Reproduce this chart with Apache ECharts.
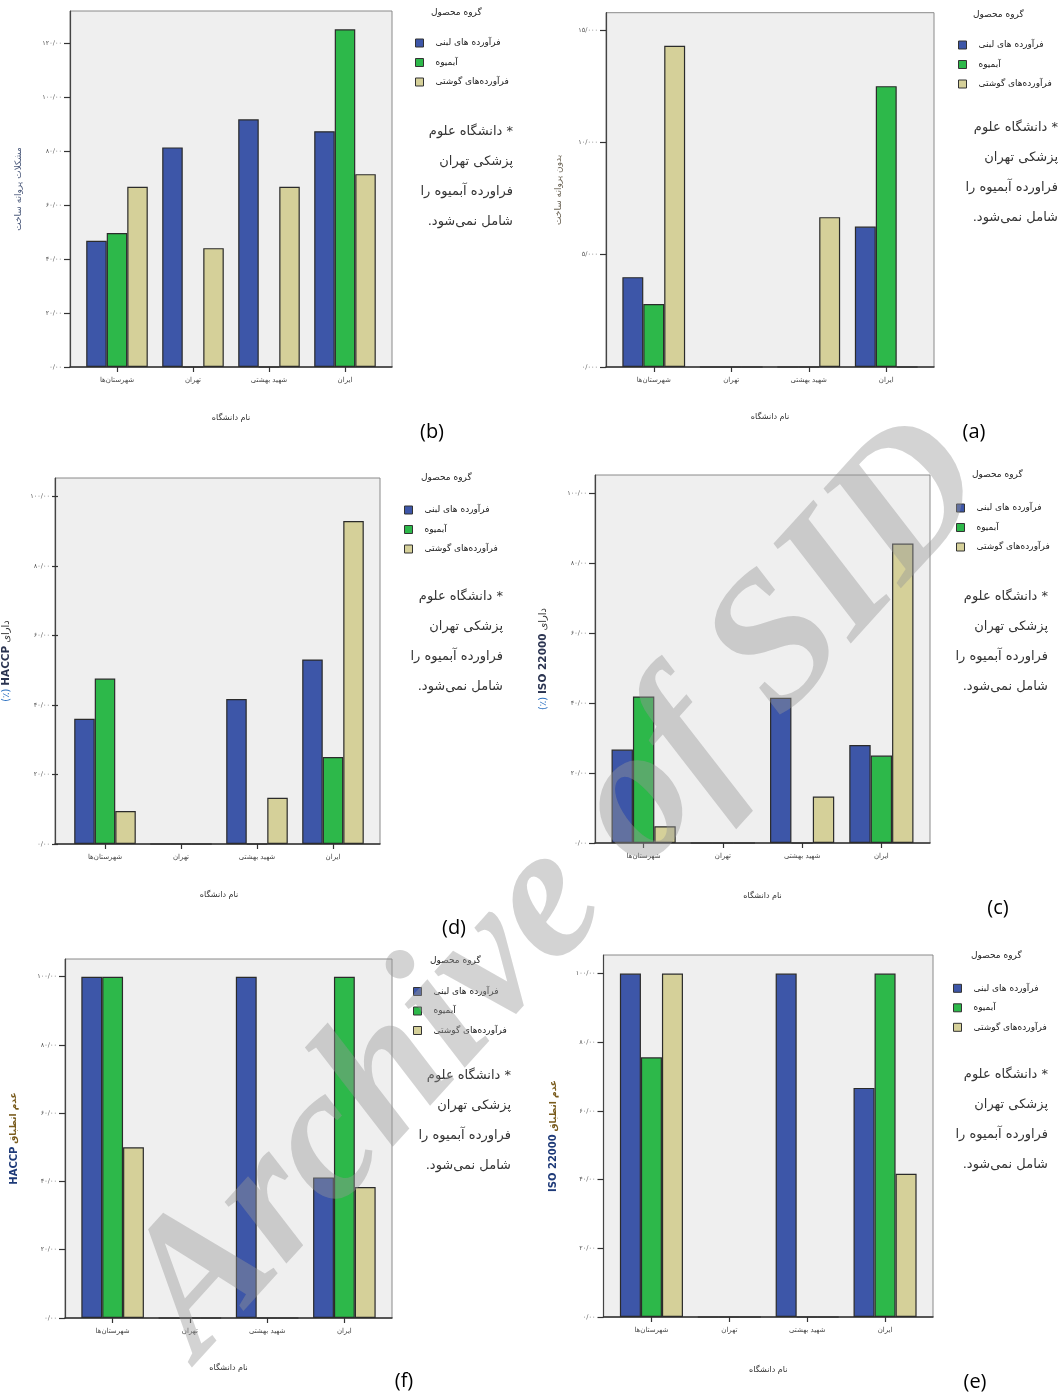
<!DOCTYPE html>
<html lang="fa">
<head>
<meta charset="utf-8" />
<title>نام دانشگاه - گروه محصول</title>
<style>
  html, body { margin: 0; padding: 0; background: #fff; }
  #chart { width: 1059px; height: 1392px; }
</style>
</head>
<body>
<div id="chart"></div>
<script src="https://cdn.jsdelivr.net/npm/echarts@6/dist/echarts.min.js"></script>
<script>
const categories = ['شهرستان‌ها', 'تهران', 'شهید بهشتی', 'ایران'];
const groupNames = ['فرآورده های لبنی', 'آبمیوه', 'فرآورده‌های گوشتی'];
const groupColors = ['#3d56a8', '#2db84a', '#d5d099'];

// (a) بدون پروانه ساخت
const dairyA = [4.0, 0, 0, 6.25];
const juiceA = [2.8, 0, 0, 12.5];
const meatA = [14.3, 0, 6.67, 0];
// (b) مشکلات پروانه ساخت
const dairyB = [46.7, 81.3, 91.7, 87.3];
const juiceB = [49.6, 0, 0, 125];
const meatB = [66.7, 44, 66.7, 71.4];
// (c) دارای ISO 22000
const dairyC = [26.7, 0, 41.5, 28];
const juiceC = [41.9, 0, 0, 25];
const meatC = [4.8, 0, 13.3, 85.6];
// (d) دارای HACCP
const dairyD = [36, 0, 41.7, 53.1];
const juiceD = [47.6, 0, 0, 25];
const meatD = [9.5, 0, 13.3, 92.9];
// (e) عدم انطباق ISO 22000
const dairyE = [100, 0, 100, 66.7];
const juiceE = [75.6, 0, 0, 100];
const meatE = [100, 0, 0, 41.7];
// (f) عدم انطباق HACCP
const dairyF = [100, 0, 100, 41.2];
const juiceF = [100, 0, 0, 100];
const meatF = [50, 0, 0, 38.4];

const yTicksA = [0, 5, 10, 15];
const yTicksB = [0, 20, 40, 60, 80, 100, 120];
const yTicksPct = [0, 20, 40, 60, 80, 100];

const noteLines = ['* دانشگاه علوم', 'پزشکی تهران', 'فراورده آبمیوه را', 'شامل نمی‌شود.'];
const legendTitle = 'گروه محصول';
const xName = 'نام دانشگاه';

const RLE = '\u202B', PDF = '\u202C';
const faDigits = '۰۱۲۳۴۵۶۷۸۹';
const toFa = (v, dec) => v.toFixed(dec).replace('.', '/').replace(/\d/g, d => faDigits[d]);
const FONT = '"DejaVu Sans", sans-serif';

const richY = {
  p: { color: '#2a6fc0', fontSize: 10, fontFamily: FONT },
  l: { color: '#2a3350', fontSize: 10.5, fontWeight: 'bold', fontFamily: FONT },
  f: { color: '#333', fontSize: 10, fontFamily: FONT },
  lb: { color: '#1e3a78', fontSize: 10, fontWeight: 'bold', fontFamily: FONT },
  fb: { color: '#7a5c1e', fontSize: 9, fontWeight: 'bold', fontFamily: FONT }
};

const panels = [
  { label: '(b)', box: [70, 11, 392, 367], max: 131.8, step: 20, ticks: yTicksB, dec: 2,
    data: [dairyB, juiceB, meatB], yName: 'مشکلات پروانه ساخت', yColor: '#4d5b7c', yGap: 47, xGap: 47,
    leg: [415, 43], title: [431, 13], note: [513, 116.7], lab: [432, 432] },
  { label: '(a)', box: [606, 12.7, 934, 367], max: 15.77, step: 5, ticks: yTicksA, dec: 3,
    data: [dairyA, juiceA, meatA], yName: 'بدون پروانه ساخت', yColor: '#6d6658', yGap: 43, xGap: 46,
    leg: [958, 45], title: [973, 15], note: [1058, 113], lab: [974, 432] },
  { label: '(d)', box: [55, 478, 380, 844], max: 105.3, step: 20, ticks: yTicksPct, dec: 2,
    data: [dairyD, juiceD, meatD], yName: '{p|(٪)} {l|HACCP} {f|دارای}', yGap: 46, xGap: 47,
    leg: [404, 510], title: [421, 478], note: [503, 581.7], lab: [454, 928] },
  { label: '(c)', box: [595, 475, 930, 843], max: 105.2, step: 20, ticks: yTicksPct, dec: 2,
    data: [dairyC, juiceC, meatC], yName: '{p|(٪)} {l|ISO 22000} {f|دارای}', yGap: 46, xGap: 49,
    leg: [956, 508], title: [972, 475], note: [1048, 582], lab: [998, 908] },
  { label: '(f)', box: [65, 959, 392, 1318], max: 105.2, step: 20, ticks: yTicksPct, dec: 2,
    data: [dairyF, juiceF, meatF], yName: '{lb|HACCP} {fb|عدم انطباق}', yGap: 46, xGap: 46,
    leg: [413, 991.5], title: [430, 960.7], note: [511, 1061], lab: [404, 1381] },
  { label: '(e)', box: [603.5, 955, 933, 1317], max: 105.4, step: 20, ticks: yTicksPct, dec: 2,
    data: [dairyE, juiceE, meatE], yName: '{lb|ISO 22000} {fb|عدم انطباق}', yGap: 45, xGap: 49,
    leg: [953, 988.3], title: [971, 956], note: [1048, 1060], lab: [975, 1382] }
];

const option = {
  animation: false,
  grid: [], xAxis: [], yAxis: [], series: [], legend: [], graphic: []
};

panels.forEach((p, i) => {
  const [l, t, r, b] = p.box;
  const inset = 9;
  option.grid.push({ left: l, top: t, width: r - l, height: b - t, show: true,
    backgroundColor: '#efefef', borderColor: '#8a8a8a', borderWidth: 1 });
  option.grid.push({ left: l + inset, top: t, width: r - l - 2 * inset, height: b - t });

  // frame axes (box grid)
  option.xAxis.push({ gridIndex: 2 * i, type: 'value', min: 0, max: 1,
    axisLine: { show: true, lineStyle: { color: '#333', width: 1.5 } },
    axisTick: { show: false }, axisLabel: { show: false }, splitLine: { show: false } });
  option.yAxis.push({ gridIndex: 2 * i, type: 'value', min: 0, max: 1,
    axisLine: { show: true, lineStyle: { color: '#444', width: 1.2 } },
    axisTick: { show: false }, axisLabel: { show: false }, splitLine: { show: false } });

  // data axes
  option.xAxis.push({ gridIndex: 2 * i + 1, type: 'category', data: categories,
    axisLine: { show: false },
    axisTick: { show: true, alignWithLabel: true, length: 5, lineStyle: { color: '#333', width: 1.2 } },
    axisLabel: { fontSize: 7, color: '#444', margin: 10, fontFamily: FONT },
    name: xName, nameLocation: 'middle', nameGap: p.xGap,
    nameTextStyle: { fontSize: 8, color: '#333', fontFamily: FONT } });
  option.yAxis.push({ gridIndex: 2 * i + 1, type: 'value', min: 0, max: p.max, interval: p.step,
    offset: inset,
    axisLine: { show: false },
    axisTick: { show: true, length: 6, customValues: p.ticks, lineStyle: { color: '#333', width: 1.2 } },
    axisLabel: { customValues: p.ticks, formatter: v => toFa(v, p.dec),
      fontSize: 6.5, color: '#555', margin: 8, fontFamily: FONT },
    splitLine: { show: false },
    name: p.yName, nameLocation: 'middle', nameGap: p.yGap,
    nameTextStyle: { fontSize: 9, color: p.yColor || '#333', fontFamily: FONT, rich: richY } });

  groupNames.forEach((name, k) => {
    option.series.push({
      type: 'bar', name, xAxisIndex: 2 * i + 1, yAxisIndex: 2 * i + 1,
      data: p.data[k], barGap: '0%', barCategoryGap: '19%',
      itemStyle: { color: groupColors[k], borderColor: '#2b2b2b', borderWidth: 1.2 }
    });
  });

  option.legend.push({
    orient: 'vertical', left: p.leg[0], top: p.leg[1] - 6, padding: 0,
    itemWidth: 8, itemHeight: 8, itemGap: 7.5, icon: 'rect', selectedMode: false,
    data: groupNames,
    itemStyle: { borderColor: '#333', borderWidth: 1 },
    textStyle: { fontSize: 9, color: '#222', lineHeight: 12, padding: [0, 0, 0, 7], fontFamily: FONT }
  });

  option.graphic.push({
    type: 'text', x: p.title[0], y: p.title[1], silent: true,
    style: { text: legendTitle, fill: '#222', font: '9px ' + FONT,
      align: 'left', textAlign: 'left', verticalAlign: 'middle', textVerticalAlign: 'middle' }
  });
  option.graphic.push({
    type: 'text', x: p.note[0], y: p.note[1], silent: true,
    style: { text: noteLines.map(s => RLE + s + PDF).join('\n'), fill: '#333', font: '13px ' + FONT,
      lineHeight: 30, align: 'right', textAlign: 'right', verticalAlign: 'top', textVerticalAlign: 'top' }
  });
  option.graphic.push({
    type: 'text', x: p.lab[0], y: p.lab[1], silent: true,
    style: { text: p.label, fill: '#000', font: '20px "Open Sans", sans-serif',
      align: 'center', textAlign: 'center', verticalAlign: 'middle', textVerticalAlign: 'middle' }
  });
});

// watermark of the source archive
option.graphic.push({
  type: 'text', x: 560, y: 890, rotation: 47.7 * Math.PI / 180, z: 100, silent: true,
  style: { text: 'Archive of SID', fill: 'rgba(150,150,150,0.42)',
    font: 'italic bold 190px "Liberation Serif", serif',
    align: 'center', textAlign: 'center', verticalAlign: 'middle', textVerticalAlign: 'middle' }
});

const chart = echarts.init(document.getElementById('chart'));
chart.setOption(option);
</script>
</body>
</html>
